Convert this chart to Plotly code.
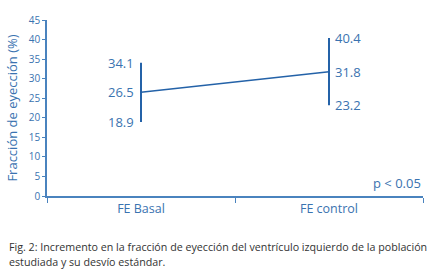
import plotly.graph_objects as go

categories = ["FE Basal", "FE control"]
means = [26.5, 31.8]
upper = [34.1, 40.4]
lower = [18.9, 23.2]
y_ticks = [0, 5, 10, 15, 20, 25, 30, 35, 40, 45]
y_title = "Fracción de eyección (%)"
p_text = "p < 0.05"
caption = ["Fig. 2: Incremento en la fracción de eyección del ventrículo izquierdo de la población",
           "estudiada y su desvío estándar."]

LINE = "#2462a8"
AX = "#4a83be"
TXT = "#3a73b0"
FONT = "Open Sans"

W, H = 437, 273
ml, mr, mt, mb = 47, 14, 13, 77
pw, ph = W - ml - mr, H - mt - mb

err_plus = [u - m for u, m in zip(upper, means)]
err_minus = [m - l for m, l in zip(means, lower)]

fig = go.Figure()
fig.add_trace(go.Scatter(
    x=categories, y=means, mode="lines",
    line=dict(color=LINE, width=1.5),
    error_y=dict(type="data", symmetric=False, array=err_plus, arrayminus=err_minus,
                 color=LINE, thickness=2, width=0),
    showlegend=False, hoverinfo="skip"))

anns = []
for i, cat in enumerate(categories):
    for v in (upper[i], means[i], lower[i]):
        if i == 0:
            anns.append(dict(x=cat, y=v, xref="x", yref="y", text=f"{v:.1f}", showarrow=False,
                             xanchor="right", xshift=-5, font=dict(family=FONT, size=13, color=TXT)))
        else:
            anns.append(dict(x=cat, y=v, xref="x", yref="y", text=f"{v:.1f}", showarrow=False,
                             xanchor="left", xshift=4, font=dict(family=FONT, size=13, color=TXT)))

anns.append(dict(x=1.0, y=14 / ph, xref="paper", yref="paper", text=p_text, showarrow=False,
                 xanchor="right", yanchor="middle",
                 font=dict(family=FONT, size=13, color=TXT)))
for px, py, t in ((7, 249, caption[0]), (7, 265, caption[1])):
    anns.append(dict(x=(px - ml) / pw, y=(H - mb - py) / ph, xref="paper", yref="paper",
                     text=t, showarrow=False, xanchor="left", yanchor="middle",
                     font=dict(family=FONT, size=10.7, color="#333333")))

fig.update_layout(
    width=W, height=H,
    margin=dict(l=ml, r=mr, t=mt, b=mb),
    paper_bgcolor="white", plot_bgcolor="white",
    annotations=anns,
    xaxis=dict(type="category", range=[-0.5, 1.5], tickson="boundaries",
               showline=True, linecolor=AX, linewidth=1.5, ticks="outside", ticklen=5,
               tickcolor=AX, tickwidth=1.2, showgrid=False, zeroline=False,
               tickfont=dict(family=FONT, size=12.5, color=TXT)),
    yaxis=dict(range=[0, 45], tickvals=y_ticks, showline=True, linecolor=AX, linewidth=1.5,
               ticks="outside", ticklen=3, tickcolor=AX, showgrid=False, zeroline=False,
               tickfont=dict(family=FONT, size=10, color=TXT),
               title=dict(text=y_title, font=dict(family=FONT, size=13, color=TXT), standoff=8)),
)

fig.write_html("out.html", config={"displayModeBar": False},
               post_script="document.body.style.margin='0';")
